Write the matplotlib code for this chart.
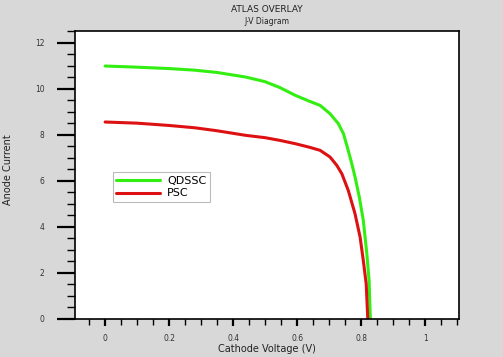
import matplotlib
matplotlib.use("Agg")
import matplotlib.pyplot as plt
from matplotlib.ticker import MultipleLocator

# Data
v_qdssc = [0.0, 0.1, 0.2, 0.28, 0.35, 0.44, 0.50, 0.547, 0.594, 0.635, 0.672, 0.703, 0.729, 0.745, 0.757,
           0.771, 0.783, 0.795, 0.807, 0.818, 0.825, 0.829]
j_qdssc = [10.98, 10.93, 10.87, 10.80, 10.70, 10.50, 10.30, 10.04, 9.71, 9.47, 9.27, 8.91, 8.48, 8.04, 7.46,
           6.74, 6.05, 5.25, 4.27, 2.83, 1.67, 0.0]

v_psc = [0.0, 0.1, 0.2, 0.28, 0.35, 0.44, 0.50, 0.547, 0.594, 0.64, 0.672, 0.703, 0.724, 0.740, 0.760,
         0.781, 0.797, 0.807, 0.816, 0.821]
j_psc = [8.55, 8.50, 8.40, 8.30, 8.17, 7.97, 7.87, 7.75, 7.61, 7.45, 7.32, 7.03, 6.67, 6.30, 5.58,
         4.57, 3.55, 2.53, 1.52, 0.0]

series_names = ["QDSSC", "PSC"]
series_colors = ["#33ee11", "#dd1111"]

title = "ATLAS OVERLAY"
subtitle = "J-V Diagram"
xlabel = "Cathode Voltage (V)"
ylabel = "Anode Current"
xticks = [0, 0.2, 0.4, 0.6, 0.8, 1]
xticklabels = ["0", "0.2", "0.4", "0.6", "0.8", "1"]
yticks = [0, 2, 4, 6, 8, 10, 12]

bg = "#d8d8d8"
fig = plt.figure(figsize=(5.03, 3.57), dpi=100, facecolor=bg)
W, H = 503, 357
ax = fig.add_axes([75 / W, 1 - 319 / H, (459 - 75) / W, (319 - 31) / H])
ax.set_facecolor("white")

ax.plot(v_qdssc, j_qdssc, color=series_colors[0], lw=2.2, label=series_names[0],
        solid_capstyle="round", solid_joinstyle="round")
ax.plot(v_psc, j_psc, color=series_colors[1], lw=2.2, label=series_names[1],
        solid_capstyle="round", solid_joinstyle="round")

ax.set_xlim(-0.094, 1.106)
ax.set_ylim(0, 12.5)
ax.set_xticks(xticks)
ax.set_xticklabels(xticklabels)
ax.set_yticks(yticks)
ax.xaxis.set_minor_locator(MultipleLocator(0.05))
ax.yaxis.set_minor_locator(MultipleLocator(0.5))
ax.tick_params(axis="both", which="major", direction="out", length=13, width=1.6,
               labelsize=5.5, labelcolor="#333333", pad=9)
ax.tick_params(axis="both", which="minor", direction="out", length=6, width=1.0)
ax.tick_params(axis="x", which="major", length=5, pad=6)
ax.tick_params(axis="x", which="minor", length=4)
for s in ax.spines.values():
    s.set_linewidth(1.2)
    s.set_color("black")

fig.text(267 / W, 1 - 10 / H, title, ha="center", va="center", fontsize=6.5, color="#222222")
fig.text(267 / W, 1 - 21 / H, subtitle, ha="center", va="center", fontsize=5.5, color="#222222")
fig.text(267 / W, 1 - 349 / H, xlabel, ha="center", va="center", fontsize=7, color="#222222")
fig.text(8 / W, 1 - 170 / H, ylabel, ha="center", va="center", rotation=90, fontsize=7, color="#222222")

leg = ax.legend(loc="upper left", bbox_to_anchor=((112.7 - 75) / 384, 1 - (172.3 - 31) / 288),
                frameon=True, fancybox=False, fontsize=8, handlelength=4.0,
                borderpad=0.3, labelspacing=0.25, handletextpad=0.6, borderaxespad=0)
leg.get_frame().set_edgecolor("#aaaaaa")
leg.get_frame().set_linewidth(0.8)

fig.savefig("out.png", dpi=100, facecolor=bg)
